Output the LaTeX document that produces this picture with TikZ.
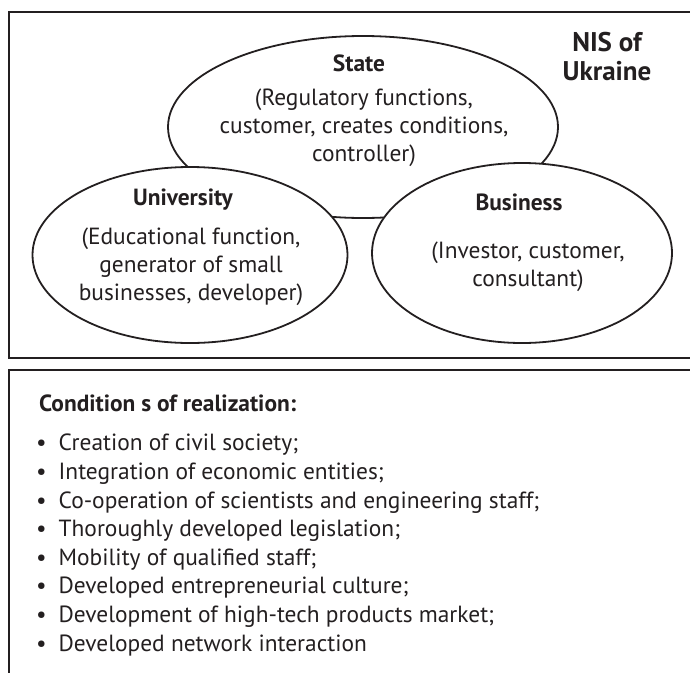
\documentclass[tikz,border=0pt]{standalone}
\usepackage{fontspec}
\setmainfont{PT Sans}
\usetikzlibrary{shapes.geometric}
\definecolor{ink}{HTML}{231F20}
\newcommand{\condbullet}{\makebox[17.5pt][l]{\kern-5pt\textbullet}}
\begin{document}
\begin{tikzpicture}[x=1pt,y=-1pt,
  frame/.style={draw=ink, line width=2pt},
  sector/.style={ellipse, draw=ink, fill=white, line width=1.8pt, inner sep=0pt},
  body/.style={text=ink, align=center, font=\fontsize{23.4}{28}\selectfont, inner sep=0pt},
  title/.style={text=ink, font=\bfseries\fontsize{23.4}{28}\selectfont, inner sep=0pt},
  listtext/.style={text=ink, align=left, font=\fontsize{23.4}{28.6}\selectfont, inner sep=0pt, anchor=west},
]
\useasboundingbox (0,0) rectangle (690,672);
\clip (0,0) rectangle (690,672);

% outer frames
\draw[frame] (9,12) rectangle (700,358);
\draw[frame] (9,370) rectangle (700,690);

% the three actors
\node[sector, minimum width=390pt, minimum height=182pt] (state) at (363,127) {};
\node[sector, minimum width=315pt, minimum height=176pt] (univ) at (190,255) {};
\node[sector, minimum width=300pt, minimum height=180pt] (biz) at (522,253) {};

\node[title] (stateT) at (359,63) {State};
\node[body] (stateB) at (364,127.5) {(Regulatory functions,\\customer, creates conditions,\\controller)};

\node[title] (univT) at (183,200) {University};
\node[body] (univB) at (191,266.5) {(Educational function,\\generator of small\\businesses, developer)};

\node[title] (bizT) at (519,202) {Business};
\node[body] (bizB) at (528,267) {(Investor, customer,\\consultant)};

\node[text=ink, align=center, inner sep=0pt, font=\bfseries\fontsize{27}{29}\selectfont] (nis) at (607,57) {NIS of\\Ukraine};

% conditions
\node[listtext, font=\bfseries\fontsize{23.4}{28}\selectfont] (condT) at (39,403) {Condition s of realization:};
\node[listtext] (cond) at (41,545) {%
\condbullet Creation of civil society;\\
\condbullet Integration of economic entities;\\
\condbullet Co-operation of scientists and engineering staff;\\
\condbullet Thoroughly developed legislation;\\
\condbullet Mobility of qualified staff;\\
\condbullet Developed entrepreneurial culture;\\
\condbullet Development of high-tech products market;\\
\condbullet Developed network interaction};
\end{tikzpicture}
\end{document}
